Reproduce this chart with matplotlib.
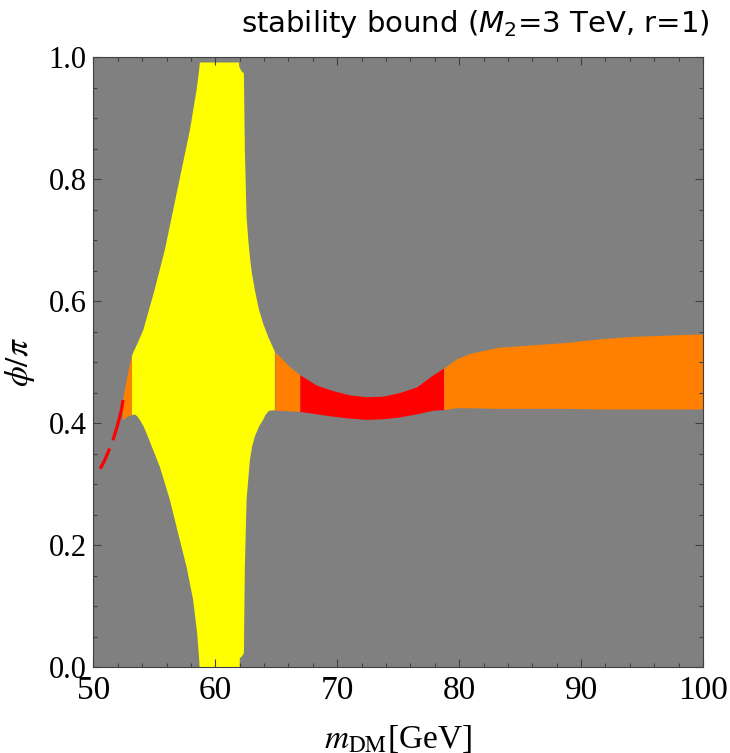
import numpy as np
import matplotlib.pyplot as plt
from matplotlib.ticker import MultipleLocator

plt.rcParams['mathtext.fontset'] = 'stix'

# yellow region boundaries (m_DM [GeV], phi/pi)
upper_left_x = [53.15, 53.6, 54.1, 55.0, 55.86, 56.54, 57.23, 57.91, 58.46, 58.65, 58.73]
upper_left_y = [0.510, 0.530, 0.553, 0.617, 0.684, 0.749, 0.815, 0.880, 0.946, 0.975, 0.991]
upper_right_x = [61.95, 61.95, 62.1, 62.34, 62.42, 62.56, 62.7, 62.83, 63.0, 63.24, 63.55,
                 63.92, 64.4, 64.88]
upper_right_y = [0.991, 0.985, 0.978, 0.973, 0.848, 0.738, 0.700, 0.673, 0.645, 0.618, 0.588,
                 0.563, 0.538, 0.517]
lower_right_x = [64.88, 64.4, 64.1, 63.92, 63.6, 63.24, 63.0, 62.83, 62.56, 62.42, 62.34,
                 62.2, 62.0, 62.0]
lower_right_y = [0.421, 0.420, 0.413, 0.405, 0.395, 0.378, 0.360, 0.339, 0.274, 0.164, 0.023,
                 0.018, 0.014, 0.0]
lower_left_x = [58.7, 58.68, 58.51, 58.18, 57.64, 56.95, 56.27, 55.45, 54.36, 54.1, 53.81,
                53.6, 53.4, 53.15]
lower_left_y = [0.0, 0.011, 0.055, 0.110, 0.164, 0.219, 0.274, 0.328, 0.383, 0.395, 0.405,
                0.411, 0.414, 0.413]

# small orange strip left of the yellow region
strip_x = [52.4, 52.45, 52.8, 53.15, 53.15, 52.8]
strip_y = [0.405, 0.440, 0.478, 0.510, 0.413, 0.410]

# red dashed edge at low mass
edge_x = [50.55, 50.9, 51.35, 51.62, 52.0, 52.3, 52.45]
edge_y = [0.325, 0.338, 0.359, 0.373, 0.398, 0.422, 0.440]

# band right of the yellow region
band_x = [64.88, 66.0, 66.93, 68.30, 69.66, 71.02, 72.39, 73.75, 75.12, 76.49, 77.85,
          78.73, 79.77, 80.86, 83.16, 85.94, 88.73, 91.52, 94.22, 97.0, 100.0]
band_upper = [0.517, 0.494, 0.479, 0.462, 0.453, 0.446, 0.443, 0.444, 0.450, 0.459, 0.479,
              0.490, 0.505, 0.514, 0.524, 0.528, 0.532, 0.538, 0.542, 0.544, 0.546]
band_lower = [0.421, 0.420, 0.419, 0.415, 0.411, 0.408, 0.406, 0.407, 0.410, 0.415, 0.421,
              0.422, 0.425, 0.425, 0.424, 0.424, 0.424, 0.423, 0.423, 0.423, 0.423]
red_from, red_to = 66.93, 78.73

fig = plt.figure(figsize=(7.3, 7.53), dpi=100)
ax = fig.add_axes([0.128, 0.1142, 0.835, 0.8101])
ax.set_facecolor('#808080')

yx = upper_left_x + upper_right_x + lower_right_x + lower_left_x
yy = upper_left_y + upper_right_y + lower_right_y + lower_left_y
ax.fill(yx, yy, color='#ffff00', lw=0)
ax.fill(strip_x, strip_y, color='#ff8000', lw=0)

bx = np.array(band_x)
bu = np.array(band_upper)
bl = np.array(band_lower)
i0 = band_x.index(red_from)
i1 = band_x.index(red_to)
ax.fill_between(bx[:i0 + 1], bl[:i0 + 1], bu[:i0 + 1], color='#ff8000', lw=0)
ax.fill_between(bx[i0:i1 + 1], bl[i0:i1 + 1], bu[i0:i1 + 1], color='#ff0000', lw=0)
ax.fill_between(bx[i1:], bl[i1:], bu[i1:], color='#ff8000', lw=0)

ax.plot(edge_x, edge_y, color='#ff0000', lw=2.3, dashes=(7, 2.8, 13, 3), solid_capstyle='butt')

ax.set_xlim(50, 100)
ax.set_ylim(0, 1)
ax.xaxis.set_major_locator(MultipleLocator(10))
ax.xaxis.set_minor_locator(MultipleLocator(2))
ax.yaxis.set_major_locator(MultipleLocator(0.2))
ax.yaxis.set_minor_locator(MultipleLocator(0.05))
ax.yaxis.set_major_formatter(plt.FuncFormatter(lambda v, p: f"{v:.1f}"))
ax.tick_params(which='both', direction='in', top=True, right=True, color='#404040', width=0.8)
ax.tick_params(which='major', length=6)
ax.tick_params(which='minor', length=3)
ax.tick_params(axis='x', pad=6, labelsize=24)
ax.tick_params(axis='y', pad=5, labelsize=22)
for lab in ax.get_xticklabels() + ax.get_yticklabels():
    lab.set_family('Liberation Serif')
for s in ax.spines.values():
    s.set_color('#404040')
    s.set_linewidth(0.8)

ax.set_xlabel(r"$m_{\rm DM}$[GeV]", fontsize=24, family='Liberation Serif', labelpad=12)
ax.set_ylabel(r"$\phi/\pi$", fontsize=24, family='Liberation Serif', labelpad=8)

fig.text(709 / 730, 1 - 32 / 753, "stability bound ($M_2$=3 TeV, r=1)", ha='right',
         va='baseline', fontsize=21, family='DejaVu Sans', math_fontfamily='dejavusans')

fig.savefig('out.png')
